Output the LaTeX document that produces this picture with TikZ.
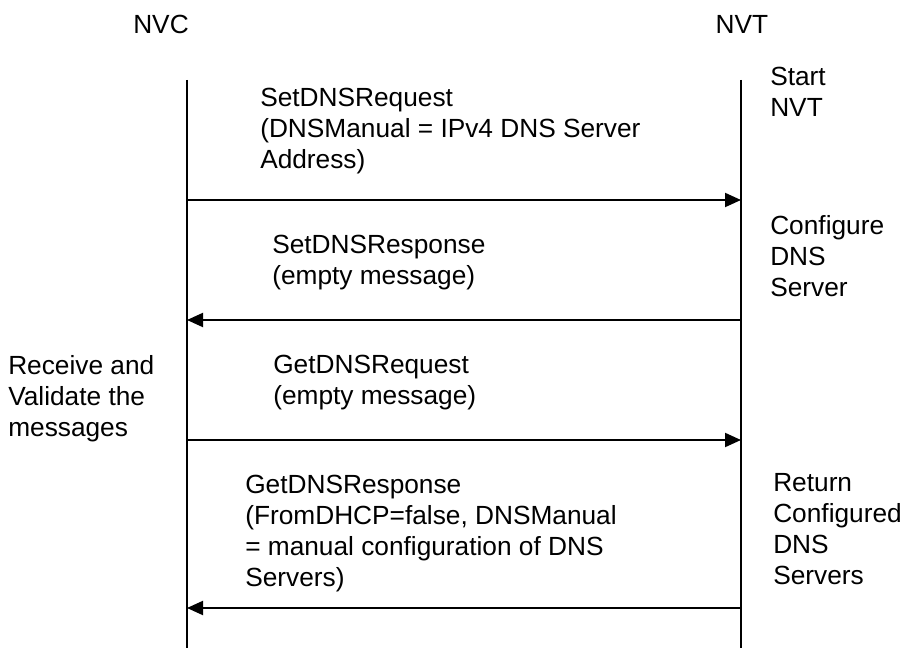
\documentclass[tikz,border=0pt]{standalone}
\usepackage{fontspec}
\setmainfont{Liberation Sans}
\usetikzlibrary{arrows.meta, calc}

\tikzset{
    msg/.style={-{Triangle[length=12pt,width=10.5pt]}, line width=1.5pt},
    life/.style={line width=1.5pt},
    lbl/.style={anchor=north west, inner sep=0pt, align=left,
        font=\fontsize{19.7}{23.2}\selectfont},
}

\begin{document}
\begin{tikzpicture}[x=0.75pt, y=-0.75pt]
        \useasboundingbox (0,0) rectangle (903,648);

        % entities
        \node[lbl, anchor=center] (nvc) at (161,24) {NVC};
        \node[lbl, anchor=center] (nvt) at (742,24) {NVT};

        \coordinate (cTop) at (187,80);
        \coordinate (cBot) at (187,648);
        \coordinate (tTop) at (741,80);
        \coordinate (tBot) at (741,648);
        \draw[life] (cTop) -- (cBot)
            (tTop) -- (tBot);

        \foreach \n/\y in {1/200, 2/320, 3/440, 4/608}{
            \coordinate (c\n) at (cTop |- 0,\y);
            \coordinate (t\n) at (tTop |- 0,\y);
        }

        % messages
        \draw[msg] (c1) -- (t1);
        \draw[msg] (t2) -- (c2);
        \draw[msg] (c3) -- (t3);
        \draw[msg] (t4) -- (c4);

        \node[lbl] (setreq) at (260,88)
            {SetDNSRequest\\(DNSManual = IPv4 DNS Server\\Address)};
        \node[lbl] (setresp) at (272,235)
            {SetDNSResponse\\(empty message)};
        \node[lbl] (getreq) at (273,355)
            {GetDNSRequest\\(empty message)};
        \node[lbl] (getresp) at (245,475)
            {GetDNSResponse\\(FromDHCP=false, DNSManual\\= manual configuration of DNS\\Servers)};

        % actions
        \node[lbl] (start) at (770,67) {Start\\NVT};
        \node[lbl] (config) at (770,215) {Configure\\DNS\\Server};
        \node[lbl] (ret) at (773,473) {Return\\Configured\\DNS\\Servers};
        \node[lbl] (valid) at (8,355) {Receive and\\Validate the\\messages};

\end{tikzpicture}
\end{document}
